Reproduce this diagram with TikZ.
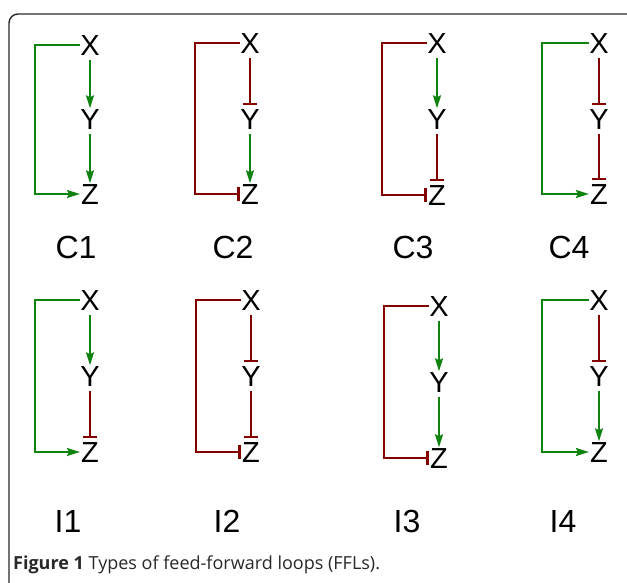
\documentclass[tikz,border=0pt]{standalone}
\usepackage{fontspec}
\setmainfont{Liberation Sans}
\newfontfamily\capfont{Open Sans}
\usetikzlibrary{arrows.meta}
\definecolor{actgreen}{RGB}{16,130,16}
\definecolor{repred}{RGB}{130,0,0}
\definecolor{framegray}{RGB}{40,40,40}
\tikzset{
  gene/.style={inner sep=0pt, font=\fontsize{29}{29}\selectfont, text height=21pt, text depth=0pt},
  tag/.style={inner sep=0pt, font=\fontsize{32}{32}\selectfont},
  act/.style={draw=actgreen, line width=2pt, -{Stealth[length=13pt,width=8pt,inset=2pt]}},
  rep/.style={draw=repred, line width=2pt, -{Bar[width=14pt,line width=2.6pt]}},
}
\begin{document}
\begin{tikzpicture}[x=1pt,y=-1pt]
\useasboundingbox (0,0) rectangle (627,583);
\fill[white] (0,0) rectangle (627,583);
% panel frame
\draw[framegray, line width=1.4pt, rounded corners=9pt] (9,600) -- (9,14) -- (650,14);

% ---- coherent loops ----
% C1
\node[gene] (c1x) at (90,45) {X};
\node[gene] (c1y) at (90,119) {Y};
\node[gene] (c1z) at (90,194) {Z};
\draw[act, shorten <=4pt] (c1x.south) -- (c1y.north);
\draw[act, shorten <=4pt] (c1y.south) -- (c1z.north);
\draw[act] (c1x.west) -- ++(-45,0) |- ([xshift=-1pt]c1z.west);
\node[tag] (c1) at (76,247) {C1};

% C2
\node[gene] (c2x) at (250,43) {X};
\node[gene] (c2y) at (250,119) {Y};
\node[gene] (c2z) at (250,194) {Z};
\draw[rep, shorten <=4pt, shorten >=3pt] (c2x.south) -- (c2y.north);
\draw[act, shorten <=4pt] (c2y.south) -- (c2z.north);
\draw[rep] (c2x.west) -- ++(-45,0) |- ([xshift=-1pt]c2z.west);
\node[tag] (c2) at (233,247) {C2};

% C3
\node[gene] (c3x) at (437,43) {X};
\node[gene] (c3y) at (437,119) {Y};
\node[gene] (c3z) at (437,195) {Z};
\draw[act, shorten <=4pt] (c3x.south) -- (c3y.north);
\draw[rep, shorten <=4pt, shorten >=3pt] (c3y.south) -- (c3z.north);
\draw[rep] (c3x.west) -- ++(-45,0) |- ([xshift=-1pt]c3z.west);
\node[tag] (c3) at (413,247) {C3};

% C4
\node[gene] (c4x) at (599,43) {X};
\node[gene] (c4y) at (599,119) {Y};
\node[gene] (c4z) at (599,194) {Z};
\draw[rep, shorten <=4pt, shorten >=3pt] (c4x.south) -- (c4y.north);
\draw[rep, shorten <=4pt, shorten >=3pt] (c4y.south) -- (c4z.north);
\draw[act] (c4x.west) -- ++(-47,0) |- ([xshift=-1pt]c4z.west);
\node[tag] (c4) at (569,247) {C4};

% ---- incoherent loops ----
% I1
\node[gene] (i1x) at (90,300) {X};
\node[gene] (i1y) at (90,376) {Y};
\node[gene] (i1z) at (90,452) {Z};
\draw[act, shorten <=4pt] (i1x.south) -- (i1y.north);
\draw[rep, shorten <=4pt, shorten >=3pt] (i1y.south) -- (i1z.north);
\draw[act] (i1x.west) -- ++(-45,0) |- ([xshift=-1pt]i1z.west);
\node[tag] (i1) at (68,521) {I1};

% I2
\node[gene] (i2x) at (251,300) {X};
\node[gene] (i2y) at (251,376) {Y};
\node[gene] (i2z) at (251,452) {Z};
\draw[rep, shorten <=4pt, shorten >=3pt] (i2x.south) -- (i2y.north);
\draw[rep, shorten <=4pt, shorten >=3pt] (i2y.south) -- (i2z.north);
\draw[rep] (i2x.west) -- ++(-45,0) |- ([xshift=-1pt]i2z.west);
\node[tag] (i2) at (227,521) {I2};

% I3
\node[gene] (i3x) at (439,306) {X};
\node[gene] (i3y) at (439,382) {Y};
\node[gene] (i3z) at (439,458) {Z};
\draw[act, shorten <=4pt] (i3x.south) -- (i3y.north);
\draw[act, shorten <=4pt] (i3y.south) -- (i3z.north);
\draw[rep] (i3x.west) -- ++(-45,0) |- ([xshift=-1pt]i3z.west);
\node[tag] (i3) at (407,521) {I3};

% I4
\node[gene] (i4x) at (599,300) {X};
\node[gene] (i4y) at (599,376) {Y};
\node[gene] (i4z) at (599,452) {Z};
\draw[rep, shorten <=4pt, shorten >=3pt] (i4x.south) -- (i4y.north);
\draw[act, shorten <=4pt] (i4y.south) -- (i4z.north);
\draw[act] (i4x.west) -- ++(-47,0) |- ([xshift=-1pt]i4z.west);
\node[tag] (i4) at (563,521) {I4};

% caption
\node[anchor=base west, inner sep=0pt, text=framegray, font=\capfont\fontsize{18}{18}\selectfont] (cap) at (13,569)
  {\textbf{Figure 1} Types of feed-forward loops (FFLs).};
\end{tikzpicture}
\end{document}
